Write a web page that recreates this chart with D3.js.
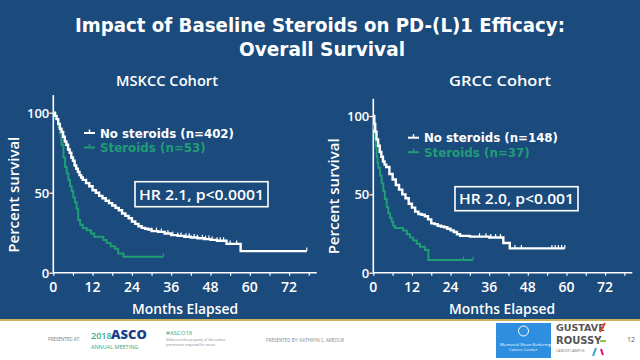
<!DOCTYPE html>
<html><head><meta charset="utf-8">
<script src="https://cdn.jsdelivr.net/npm/d3@7"></script>
<style>html,body{margin:0;padding:0;background:#1b4a7c;}svg{display:block;}</style>
</head><body>
<svg id="c" width="640" height="360"></svg>
<script>
// ---- data ----
const xTicks = [0, 12, 24, 36, 48, 60, 72];
const yTicks = [0, 50, 100];

// MSKCC cohort
const mskNoT = [0,0.5,1,1.5,2,2.5,3,3.5,4,4.5,5,5.5,6,6.5,7,7.5,8,8.5,9,10,11,12,13,14,15,16,17,18,19,20,21,22,23,24,25,26,27,28,29,30,32,34,36,38,40,42,44,46,48,50,52.9,57.2,77.4];
const mskNoS = [100,98,96,93,90,88,85,82,80,77,75,72,70,67,65,63,61,59.5,58,56,54,51.5,50,48,46.5,45,43.5,42,40.5,39,37,35.5,34,32,30.5,29,28,27.5,27,26,25.5,24.5,23.5,23,22.5,22,21.5,21,20.5,20,18,13.5,13.5];
const mskNoCens = [30,31.5,33,35,36.5,38,39,40.5,41.5,43,44,45.5,46.5,47.5,48.5,50,51,52,54,56,77.4];
const mskStT = [0,0.7,1.5,2,2.5,3.1,3.6,4.1,4.6,5.1,5.6,6.1,6.6,7.1,7.6,8.2,9,10.2,11.5,12.5,15.3,16.3,17.5,18.8,19.8,21.4,33.6];
const mskStS = [100,96,91,87,80,72,66,62,58,54,51,47,44,40,33,30,28,26.5,24.5,22.5,20.5,18.5,16.5,15,12,10,10];
const mskStCens = [33.6];

// GRCC cohort
const grNoT = [0,0.3,0.6,1,1.5,2,2.5,3,3.5,4,5,6,7,8,9,10,11,12,13,14,15,16,17,18,19,20,21,22,23,24,25,26,27,30,36,40.4,42.4,59.5];
const grNoS = [100,95,90,85,81,77,74,71,69,67.5,63,59.5,56,53,50,47.5,44,41.5,39,37.5,37,36,34,31.5,31,30,29.5,29,28,27,26,24.5,23.5,23,22.5,19,15.5,15.5];
const grNoCens = [33,35,36.5,38,39.5,44,46,55.5,56.5,57.5,58.5,59.5];
const grStT = [0,0.3,0.5,0.8,1.05,1.3,1.55,2.1,2.6,3.1,3.6,4.15,4.65,5.2,5.7,6.2,6.7,9.3,10.4,11.4,12.4,13.5,14.5,16,17.1,31];
const grStS = [100,92,86,80,74,70,67,62,57,52,47,42,38,35,32.5,30,28.5,27,24.5,22.5,20.5,18.5,16.5,14.5,8.1,8.1];
const grStCens = [28,31];

const panels = [
  {title:"MSKCC Cohort", tx:167, x0:53.3, x1:315.3, yB:272.7, yT:112.7,
   no:{t:mskNoT,s:mskNoS,c:mskNoCens}, st:{t:mskStT,s:mskStS,c:mskStCens},
   legNo:"No steroids (n=402)", legSt:"Steroids (n=53)", legX:84, legY:133,
   hr:"HR 2.1, p<0.0001", box:[135,181.7,133,25], ylx:14, xlx:185},
  {title:"GRCC Cohort", tx:500, x0:373.3, x1:630.8, yB:272.7, yT:116,
   no:{t:grNoT,s:grNoS,c:grNoCens}, st:{t:grStT,s:grStS,c:grStCens},
   legNo:"No steroids (n=148)", legSt:"Steroids (n=37)", legX:408, legY:137.7,
   hr:"HR 2.0, p<0.001", box:[455,186.7,123,24], ylx:334, xlx:502}
];

const WHITE = "#ffffff", GREEN = "#1f9e74", BG = "#1b4a7c";
const FONT = "'Open Sans', 'DejaVu Sans', sans-serif";
const DJ = "'DejaVu Sans', sans-serif";
const svg = d3.select("#c");

svg.append("rect").attr("x",0).attr("y",0).attr("width",640).attr("height",320).attr("fill",BG);

// Title
svg.append("text").attr("x",320).attr("y",32).attr("text-anchor","middle")
  .attr("fill","#fff").attr("font-family",DJ).attr("font-weight",700).attr("font-size",19)
  .attr("textLength",490).attr("lengthAdjust","spacingAndGlyphs")
  .text("Impact of Baseline Steroids on PD-(L)1 Efficacy:");
svg.append("text").attr("x",322).attr("y",56).attr("text-anchor","middle")
  .attr("fill","#fff").attr("font-family",DJ).attr("font-weight",700).attr("font-size",19)
  .attr("textLength",166).attr("lengthAdjust","spacingAndGlyphs")
  .text("Overall Survival");

function stepAt(t, ts, ss){ let v = ss[0]; for(let i=0;i<ts.length;i++){ if(ts[i]<=t) v=ss[i]; } return v; }

panels.forEach(p => {
  const x = d3.scaleLinear().domain([0,80]).range([p.x0,p.x1]);
  const y = d3.scaleLinear().domain([0,100]).range([p.yB,p.yT]);
  const g = svg.append("g");

  g.append("text").attr("x",p.tx).attr("y",86).attr("text-anchor","middle")
    .attr("fill","#fff").attr("font-family",FONT).attr("font-weight",600).attr("font-size",15)
    .attr("textLength",102).attr("lengthAdjust","spacingAndGlyphs").text(p.title);

  // x axis
  const xa = d3.axisBottom(x).tickValues(d3.range(0,79,6)).tickSize(3).tickFormat("");
  const gx = g.append("g").attr("transform",`translate(0,${p.yB})`).call(xa);
  gx.select(".domain").remove();
  gx.selectAll(".tick line").attr("stroke","#fff").attr("stroke-width",1.2);
  g.append("line").attr("x1",p.x0).attr("x2",p.x1+1.5).attr("y1",p.yB).attr("y2",p.yB)
    .attr("stroke","#fff").attr("stroke-width",1.6);
  g.selectAll(".xl").data(xTicks).join("text").attr("class","xl")
    .attr("x",d=>x(d)).attr("y",p.yB+19).attr("text-anchor","middle")
    .attr("fill","#fff").attr("font-family",FONT).attr("font-weight",600).attr("font-size",14).text(d=>d);

  // y axis
  const ya = d3.axisLeft(y).tickValues(yTicks).tickSize(4).tickFormat("");
  const gy = g.append("g").attr("transform",`translate(${p.x0},0)`).call(ya);
  gy.select(".domain").remove();
  gy.selectAll(".tick line").attr("stroke","#fff").attr("stroke-width",1.2);
  g.append("line").attr("x1",p.x0).attr("x2",p.x0).attr("y1",p.yB).attr("y2",y(111))
    .attr("stroke","#fff").attr("stroke-width",1.6);
  g.selectAll(".yl").data(yTicks).join("text").attr("class","yl")
    .attr("x",p.x0-4).attr("y",d=>y(d)+5).attr("text-anchor","end")
    .attr("fill","#fff").attr("font-family",FONT).attr("font-weight",600).attr("font-size",13).text(d=>d);

  g.append("text").attr("transform",`translate(${p.ylx+5},${(p.yB+p.yT)/2+2}) rotate(-90)`)
    .attr("text-anchor","middle").attr("fill","#fff").attr("font-family",FONT).attr("font-weight",600)
    .attr("font-size",14).attr("textLength",116).attr("lengthAdjust","spacingAndGlyphs").text("Percent survival");
  g.append("text").attr("x",p.xlx).attr("y",p.yB+41).attr("text-anchor","middle")
    .attr("fill","#fff").attr("font-family",FONT).attr("font-weight",600).attr("font-size",14)
    .attr("textLength",106).attr("lengthAdjust","spacingAndGlyphs").text("Months Elapsed");

  const line = d3.line().x(d=>x(d[0])).y(d=>y(d[1])).curve(d3.curveStepAfter);
  [[p.st,GREEN,2],[p.no,WHITE,2.4]].forEach(([ser,col,w])=>{
    const pts = ser.t.map((t,i)=>[t,ser.s[i]]);
    g.append("path").attr("d",line(pts)).attr("fill","none").attr("stroke",col).attr("stroke-width",w);
    g.selectAll(null).data(ser.c).join("line")
      .attr("x1",d=>x(d)).attr("x2",d=>x(d))
      .attr("y1",d=>y(stepAt(d,ser.t,ser.s))).attr("y2",d=>y(stepAt(d,ser.t,ser.s))-3.5)
      .attr("stroke",col).attr("stroke-width",1.2);
  });

  // legend
  [[p.legNo,WHITE,0],[p.legSt,GREEN,14.5]].forEach(([txt,col,dy])=>{
    const ly = p.legY+dy;
    g.append("line").attr("x1",p.legX).attr("x2",p.legX+11).attr("y1",ly).attr("y2",ly)
      .attr("stroke",col).attr("stroke-width",2);
    g.append("line").attr("x1",p.legX+5.5).attr("x2",p.legX+5.5).attr("y1",ly).attr("y2",ly-3.5)
      .attr("stroke",col).attr("stroke-width",1.5);
    g.append("text").attr("x",p.legX+16).attr("y",ly+4.5).attr("fill",col)
      .attr("font-family",DJ).attr("font-weight",700).attr("font-size",12)
      .attr("textLength", txt.length*7.05).attr("lengthAdjust","spacingAndGlyphs").text(txt);
  });

  // HR box
  const [bx,by,bw,bh] = p.box;
  g.append("rect").attr("x",bx).attr("y",by).attr("width",bw).attr("height",bh)
    .attr("fill","none").attr("stroke","#fff").attr("stroke-width",1.6);
  g.append("text").attr("x",bx+bw/2).attr("y",by+bh/2+5.5).attr("text-anchor","middle")
    .attr("fill","#fff").attr("font-family",FONT).attr("font-weight",600).attr("font-size",15)
    .attr("textLength",bw-8).attr("lengthAdjust","spacingAndGlyphs").text(p.hr);
});

// footer
svg.append("rect").attr("x",0).attr("y",320).attr("width",640).attr("height",40).attr("fill","#fff");
svg.append("rect").attr("x",0).attr("y",319).attr("width",640).attr("height",2).attr("fill","#c8b25e");
const ft = (x,y,c,t,w,fs,f)=>svg.append("text").attr("x",x).attr("y",y).attr("fill",c)
  .attr("font-family",f||FONT).attr("font-weight",w||400).attr("font-size",fs).text(t);
ft(48,341,"#777","PRESENTED AT:",400,4.5);
ft(91,339,"#3aa88a","2018",600,9);
ft(111,339,"#1b3f8a","ASCO",800,13);
ft(91,349,"#3aa88a","ANNUAL MEETING",400,5.5);
ft(166,335,"#3aa88a","#ASCO18",400,6);
ft(166,341,"#888","Slides are the property of the author,",400,3.5);
ft(166,346,"#888","permission required for reuse.",400,3.5);
ft(266,342,"#888","PRESENTED BY: KATHRYN C. ARBOUR",400,4.5);
svg.append("rect").attr("x",496).attr("y",323).attr("width",55).attr("height",35).attr("fill","#2e8fe0");
svg.append("circle").attr("cx",523.5).attr("cy",331).attr("r",5).attr("fill","none").attr("stroke","#fff").attr("stroke-width",1);
ft(500,346,"#fff","Memorial Sloan Kettering",400,4.3);
ft(509,351,"#fff","Cancer Center",400,4.3);
ft(556,331,"#555","GUSTAVE",700,9.5,DJ);
ft(556,344,"#555","ROUSSY",700,10,DJ);
ft(556,352,"#777","CANCER CAMPUS",400,3.5);
svg.append("line").attr("x1",600).attr("x2",605).attr("y1",332).attr("y2",323).attr("stroke","#e8402a").attr("stroke-width",2);
svg.append("line").attr("x1",600).attr("x2",606).attr("y1",341).attr("y2",341).attr("stroke","#8cc63f").attr("stroke-width",2);
svg.append("line").attr("x1",593).attr("x2",596).attr("y1",356).attr("y2",348).attr("stroke","#2b9fd9").attr("stroke-width",2);
svg.append("line").attr("x1",601).attr("x2",603).attr("y1",349).attr("y2",355).attr("stroke","#e6007e").attr("stroke-width",2);
ft(627,342,"#666","12",400,7);
</script>
</body></html>
